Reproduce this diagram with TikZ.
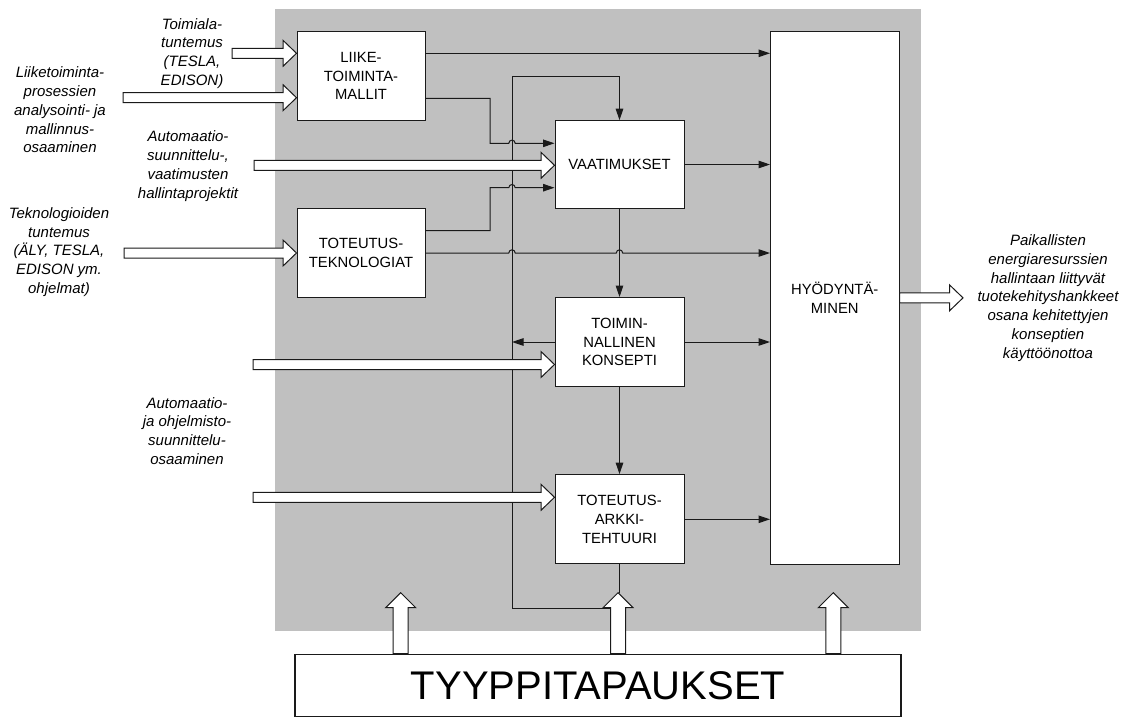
\documentclass[tikz,border=0pt]{standalone}
\usepackage{fontspec}
\setmainfont{Liberation Sans}
\usetikzlibrary{arrows.meta,calc}
\definecolor{panel}{HTML}{C0C0C0}
\definecolor{ink}{HTML}{1A1A1A}

% hollow block arrow pointing right, from #1 to the x of #2 (height taken from #1)
\newcommand\rightblock[2]{%
  \draw[blockarrow] let \p1=(#1), \p2=(#2) in
    (\x1,\y1+5pt) -- (\x2-13.5pt,\y1+5pt) -- (\x2-13.5pt,\y1+13pt) -- (\x2,\y1)
    -- (\x2-13.5pt,\y1-13pt) -- (\x2-13.5pt,\y1-5pt) -- (\x1,\y1-5pt) -- cycle;}
% hollow block arrow pointing up, from base #1 to tip #2
\newcommand\upblock[2]{%
  \draw[blockarrow] let \p1=(#1), \p2=(#2) in
    (\x1-7.5pt,\y1) -- (\x1-7.5pt,\y2-15pt) -- (\x1-15pt,\y2-15pt) -- (\x1,\y2)
    -- (\x1+15pt,\y2-15pt) -- (\x1+7.5pt,\y2-15pt) -- (\x1+7.5pt,\y1) -- cycle;}

\begin{document}
\begin{tikzpicture}[x=1pt,y=-1pt,
  box/.style={draw=ink, line width=1pt, fill=white, inner sep=0pt, align=center,
              font=\fontsize{14.8}{18.8}\selectfont},
  lbl/.style={align=center, inner sep=0pt, font=\itshape\fontsize{15}{18.8}\selectfont},
  flow/.style={draw=ink, line width=1pt, -{Triangle[length=11.5pt,width=7.5pt]}},
  plain/.style={draw=ink, line width=1pt},
  blockarrow/.style={draw=ink, line width=1pt, fill=white, line join=miter},
]
\useasboundingbox (0,0) rectangle (1128,718);

% grey process area
\fill[panel] (275,9) rectangle (921,631);

% process boxes
\node[box, minimum width=128pt, minimum height=88.6pt] (liike) at (361,76) {LIIKE-\\TOIMINTA-\\MALLIT};
\node[box, minimum width=128pt, minimum height=88.6pt] (tekno) at (361,253) {TOTEUTUS-\\TEKNOLOGIAT};
\node[box, minimum width=129pt, minimum height=87.6pt] (vaat) at (619.5,164.5) {VAATIMUKSET};
\node[box, minimum width=129pt, minimum height=89pt] (toim) at (619.5,342) {TOIMIN-\\NALLINEN\\KONSEPTI};
\node[box, minimum width=129pt, minimum height=89.3pt] (arkki) at (619.5,519.3) {TOTEUTUS-\\ARKKI-\\TEHTUURI};
\node[box, minimum width=128.5pt, minimum height=532.3pt] (hyod) at (834.75,297.85) {HYÖDYNTÄ-\\MINEN};

% routing helpers
\coordinate (loopx) at (512,0);
\coordinate (jogx) at (490,0);
\coordinate (looptop) at (512,76.7);
\coordinate (u1tip) at (400.7,592.7);
\coordinate (u2tip) at (618,592.7);
\coordinate (u3tip) at (833.3,592.7);
\coordinate (fb) at ($(u2tip)+(0,15.3)$);

% connectors
\coordinate (l1) at ($(liike.east)+(0,-22.7)$);
\draw[flow] (l1) -- (l1 -| hyod.west);

\coordinate (l2) at ($(liike.east)+(0,22.3)$);
\coordinate (v1) at ($(vaat.west)+(0,-21.2)$);
\draw[flow] (l2) -- (l2 -| jogx) -- (jogx |- v1)
  -- ($(v1 -| loopx)+(-3.2,0)$) arc[start angle=180,end angle=0,radius=3.2pt] -- (v1);

\coordinate (t1) at ($(tekno.east)+(0,-22.3)$);
\coordinate (v2) at ($(vaat.west)+(0,23.2)$);
\draw[flow] (t1) -- (t1 -| jogx) -- (jogx |- v2)
  -- ($(v2 -| loopx)+(-3.2,0)$) arc[start angle=180,end angle=0,radius=3.2pt] -- (v2);

\draw[flow] (tekno.east)
  -- ($(tekno.east -| loopx)+(-3.2,0)$) arc[start angle=180,end angle=0,radius=3.2pt]
  -- ($(tekno.east -| vaat.south)+(-3.2,0)$) arc[start angle=180,end angle=0,radius=3.2pt]
  -- (tekno.east -| hyod.west);

\draw[flow] (vaat.east) -- (vaat.east -| hyod.west);
\draw[flow] (vaat.south) -- (toim.north);
\draw[flow] (toim.east) -- (toim.east -| hyod.west);
\draw[flow] (toim.west) -- (toim.west -| loopx);
\draw[flow] (toim.south) -- (arkki.north);
\draw[flow] (arkki.east) -- (arkki.east -| hyod.west);
\draw[plain] (arkki.south) -- (arkki.south |- u2tip);
\draw[flow] (fb) -| (looptop) -| (vaat.north);

% input block arrows
\coordinate (a1) at (232,53.3);
\coordinate (a2) at (123,97.7);
\coordinate (a3) at (254,165.3);
\coordinate (a4) at (124,253);
\coordinate (a5) at (253,364.5);
\coordinate (a6) at (253,497.3);
\rightblock{a1}{a1 -| liike.west}
\rightblock{a2}{a2 -| liike.west}
\rightblock{a3}{a3 -| vaat.west}
\rightblock{a4}{a4 -| tekno.west}
\rightblock{a5}{a5 -| toim.west}
\rightblock{a6}{a6 -| arkki.west}

% output block arrow
\coordinate (outtip) at (963,297.5);
\rightblock{hyod.east}{outtip}

% case studies
\node[draw=ink, line width=1.8pt, fill=white, minimum width=606pt, minimum height=62pt,
      inner sep=0pt, font=\fontsize{40}{48}\selectfont] (tyyppi) at (598,685.5) {TYYPPITAPAUKSET};
\upblock{u1tip |- tyyppi.north}{u1tip}
\upblock{u2tip |- tyyppi.north}{u2tip}
\upblock{u3tip |- tyyppi.north}{u3tip}

% input and output labels
\node[lbl] (lab1) at (192,53.5) {Toimiala-\\tuntemus\\(TESLA,\\EDISON)};
\node[lbl] (lab2) at (60,110) {Liiketoiminta-\\prosessien\\analysointi- ja\\mallinnus-\\osaaminen};
\node[lbl] (lab3) at (188,166) {Automaatio-\\suunnittelu-,\\vaatimusten\\hallintaprojektit};
\node[lbl] (lab4) at (59,252) {Teknologioiden\\tuntemus\\(ÄLY, TESLA,\\EDISON ym.\\ohjelmat)};
\node[lbl] (lab5) at (187,431) {Automaatio-\\ja ohjelmisto-\\suunnittelu-\\osaaminen};
\node[lbl] (lab6) at (1048,298) {Paikallisten\\energiaresurssien\\hallintaan liittyvät\\tuotekehityshankkeet\\osana kehitettyjen\\konseptien\\käyttöönottoa};
\end{tikzpicture}
\end{document}
